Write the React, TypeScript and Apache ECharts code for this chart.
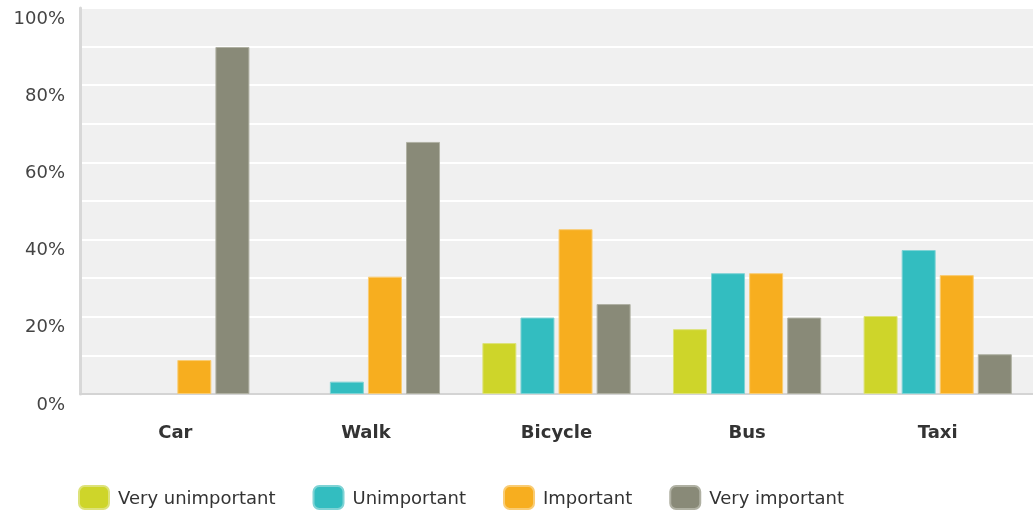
import React, { useEffect, useRef } from "react";
import * as echarts from "echarts";

const categories = ["Car", "Walk", "Bicycle", "Bus", "Taxi"];
const seriesNames = ["Very unimportant", "Unimportant", "Important", "Very important"];
const veryUnimportant = [0, 0, 13.2, 16.8, 20.2];
const unimportant = [0, 3.2, 19.8, 31.3, 37.3];
const important = [8.8, 30.4, 42.7, 31.3, 30.8];
const veryImportant = [89.9, 65.3, 23.3, 19.8, 10.3];
const yTicks = [0, 20, 40, 60, 80, 100];

const colors = ["#ced52a", "#33bdc0", "#f7ae1f", "#898a78"];
const borders = ["#dde27a", "#7fd3d5", "#f9cc74", "#b0b1a3"];

export default function App() {
  const ref = useRef<HTMLDivElement>(null);
  useEffect(() => {
    if (!ref.current) return;
    const chart = echarts.init(ref.current, null, { renderer: "svg" });
    const values = [veryUnimportant, unimportant, important, veryImportant];
    chart.setOption({
      animation: false,
      textStyle: { fontFamily: "DejaVu Sans" },
      grid: {
        left: 80,
        right: 0,
        top: 8,
        bottom: 116,
        show: true,
        backgroundColor: "#f0f0f0",
        borderWidth: 0,
      },
      legend: {
        data: seriesNames,
        left: 78,
        top: 485,
        padding: 0,
        itemWidth: 30,
        itemHeight: 23,
        itemGap: 37,
        icon: "roundRect",
        textStyle: { fontSize: 18, color: "#333", fontFamily: "DejaVu Sans", padding: [0, 0, 0, 4] },
      },
      xAxis: {
        type: "category",
        data: categories,
        axisLine: { show: true, lineStyle: { color: "#d4d4d4", width: 2 } },
        axisTick: { show: false },
        axisLabel: {
          fontSize: 18,
          fontWeight: "bold",
          color: "#333",
          margin: 28,
          fontFamily: "DejaVu Sans",
        },
      },
      yAxis: {
        type: "value",
        min: 0,
        max: 100,
        interval: 10,
        axisLine: { show: true, lineStyle: { color: "#d8d8d8", width: 3 } },
        axisTick: { show: false },
        splitLine: { show: true, lineStyle: { color: "#ffffff", width: 2 } },
        axisLabel: {
          fontSize: 18,
          color: "#444",
          margin: 15,
          verticalAlign: "top",
          fontFamily: "DejaVu Sans",
          formatter: (v: number) => (yTicks.includes(v) ? v + "%" : ""),
        },
      },
      series: seriesNames.map((name, i) => ({
        name,
        type: "bar",
        data: values[i].map((v) => (v === 0 ? "-" : v)),
        barWidth: 34,
        barGap: "12%",
        itemStyle: { color: colors[i], borderColor: borders[i], borderWidth: 1 },
      })),
    });
    return () => chart.dispose();
  }, []);
  return (
    <div
      ref={ref}
      style={{ position: "fixed", left: 0, top: 0, width: 1033, height: 510 }}
    />
  );
}
